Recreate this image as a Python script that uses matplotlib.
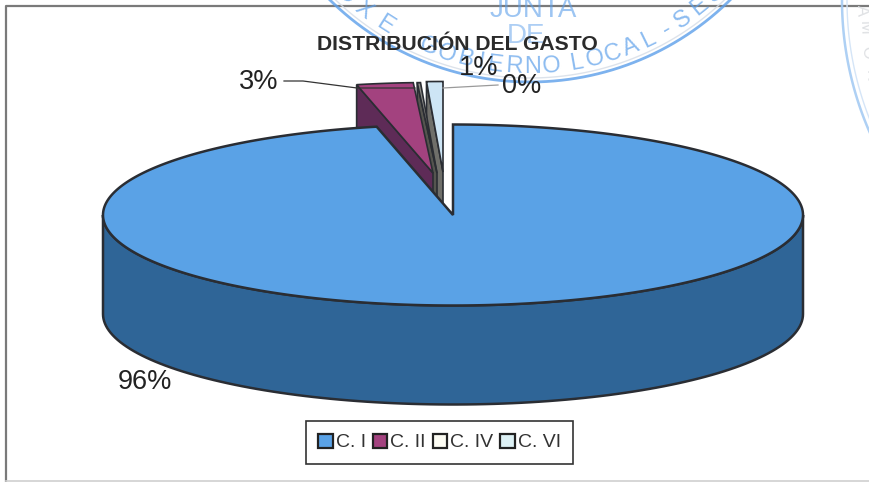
import numpy as np
import matplotlib
matplotlib.use("Agg")
import matplotlib.pyplot as plt
from matplotlib.patches import Polygon, Patch

plt.rcParams['font.family'] = ['Liberation Sans', 'DejaVu Sans']

# -----------------------------
# Data
# -----------------------------
categories = ["C. I", "C. II", "C. IV", "C. VI"]
shares = [96.5, 2.6, 0.15, 0.75]
pct_labels = ["96%", "3%", "1%", "0%"]

# -----------------------------
# Styles and layout (pixels)
# -----------------------------
top_colors = ["#5AA2E6", "#A3427F", "#8E8E88", "#CDE5F5"]
wall_colors = ["#2F6597", "#5E2B57", "#55554F", "#6F6F6A"]
legend_colors = ["#5AA2E6", "#A3427F", "#FBFBF2", "#DDF1F5"]
EDGE = "#2A2D33"
CX, CY, RX, RY, DEPTH = 453, 215, 350, 90.5, 99
offsets = [(0, 0), (-20, -42), (-16, -42), (-10, -43)]
label_pos = [(145, 382), (259, 82), (479, 68), (522, 86)]

fig = plt.figure(figsize=(8.7, 4.82), dpi=100)
ax = fig.add_axes([0, 0, 1, 1])
ax.set_xlim(0, 870)
ax.set_ylim(482, 0)
ax.axis("off")


def arc(theta1, theta2, ox=0, oy=0, n=120):
    t = np.radians(np.linspace(theta1, theta2, n))
    return np.column_stack([CX + ox + RX * np.sin(t), CY + oy - RY * np.cos(t)])


# -----------------------------
# Chart frame
# -----------------------------
ax.plot([6, 6, 870], [481, 6, 6], color="#7A7A7A", lw=1.6, zorder=1)
ax.plot([6, 870], [481, 481], color="#D0D0D0", lw=1.2, zorder=1)

# -----------------------------
# Exploded slices (behind the big one, right to left)
# -----------------------------
angles = np.cumsum([0] + [s * 3.6 for s in shares])
for i in [3, 2, 1]:
    ox, oy = offsets[i]
    a1, a2 = angles[i], angles[i + 1]
    center = np.array([CX + ox, CY + oy])
    outer = arc(a1, a1, ox, oy, 1)[0]
    wall = [outer, center, center + [0, DEPTH], outer + [0, DEPTH]]
    ax.add_patch(Polygon(wall, fc=wall_colors[i], ec=EDGE, lw=1.2, zorder=2))
    top = np.vstack([center, arc(a1, a2, ox, oy, 20)])
    ax.add_patch(Polygon(top, fc=top_colors[i], ec=EDGE, lw=1.2, zorder=3))

# -----------------------------
# Big slice
# -----------------------------
front = arc(90, 270)
wall = np.vstack([front, front[::-1] + [0, DEPTH]])
ax.add_patch(Polygon(wall, fc=wall_colors[0], ec=EDGE, lw=1.8, zorder=4))
top = np.vstack([[CX, CY], arc(angles[0], angles[1], n=400)])
ax.add_patch(Polygon(top, fc=top_colors[0], ec=EDGE, lw=1.8, zorder=5))

# -----------------------------
# Stamp on the scan
# -----------------------------
STAMP = "#5C9FEA"
SX, SY = 530, -203
t = np.radians(np.linspace(-50, 50, 200))
ax.plot(SX + 285 * np.sin(t), SY + 285 * np.cos(t), color=STAMP, lw=2, alpha=0.8, zorder=6)
ax.plot(SX + 281 * np.sin(t), SY + 281 * np.cos(t), color="#D5DCE6", lw=1, alpha=0.8, zorder=6)

stamp_letters = list("OXE") + list("GOBIERNO") + list("LOCAL") + ["-"] + list("SES")
stamp_angles = [-43, -38, -32.5, -22, -18, -14, -10.5, -7.5, -3.5, 0.5, 4.5,
                10, 14, 18, 22, 26, 30.5, 34.5, 39, 43.5]
for ch, phi in zip(stamp_letters, stamp_angles):
    p = np.radians(phi)
    ax.text(SX + 270 * np.sin(p), SY + 270 * np.cos(p), ch, rotation=phi,
            rotation_mode="anchor", ha="center", va="center", fontsize=17,
            color=STAMP, alpha=0.7, zorder=6, clip_on=True)
ax.text(533, 10, "JUNTA", ha="center", va="center", fontsize=20, color=STAMP, alpha=0.6, zorder=6)
ax.text(526, 36, "DE", ha="center", va="center", fontsize=20, color=STAMP, alpha=0.5, zorder=6)

# second stamp, right edge
t = np.radians(np.linspace(155, 205, 100))
ax.plot(1172 + 330 * np.cos(t), 330 * np.sin(t), color="#A5CBF3", lw=1.8, alpha=0.9, zorder=6)
ax.plot(1172 + 325 * np.cos(t), 325 * np.sin(t), color="#D5E5F7", lw=1, zorder=6)
for ch, y, x in [("A", 10, 862), ("M", 28, 864), ("O", 52, 867), ("N", 76, 870)]:
    ax.text(x, y, ch, rotation=-88, ha="center", va="center", fontsize=12,
            color="#DEE0E3", zorder=6)

# -----------------------------
# Title, leader lines, labels
# -----------------------------
ax.text(457, 44, "DISTRIBUCIÓN DEL GASTO", ha="center", va="center",
        fontsize=15.2, fontweight="bold", color="#2B2B2B", zorder=7)
ax.plot([284, 303, 357, 415], [81, 81, 88, 88], color="#333333", lw=0.9, zorder=7)
ax.plot([498, 443], [85, 88], color="#9A9A9A", lw=0.9, zorder=7)
for lab, (x, y) in zip(pct_labels, label_pos):
    ax.text(x, y, lab, ha="center", va="center", fontsize=19.5, color="#222222", zorder=8)

# -----------------------------
# Legend
# -----------------------------
handles = [Patch(fc=c, ec="#222222", lw=1.6, label=n) for c, n in zip(legend_colors, categories)]
leg = ax.legend(handles=handles, ncol=4, loc="center", bbox_to_anchor=(439.5 / 870, 1 - 442.5 / 482),
                fontsize=14, frameon=True, fancybox=False, edgecolor="#333333", framealpha=1,
                handlelength=0.75, handleheight=0.75, handletextpad=0.15, columnspacing=0.35,
                borderpad=0.65, borderaxespad=0, labelcolor="#333333")
leg.get_frame().set_linewidth(1.2)
leg.set_zorder(9)

fig.savefig("out.png", dpi=100)
